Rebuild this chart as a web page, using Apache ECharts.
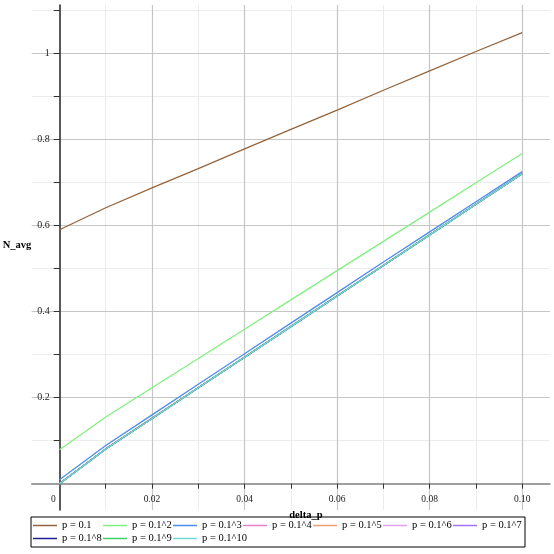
<!DOCTYPE html>
<html>
<head>
<meta charset="utf-8">
<script src="https://cdn.jsdelivr.net/npm/echarts@6/dist/echarts.min.js"></script>
<style>
  html, body { margin: 0; padding: 0; background: #ffffff; }
  #chart { width: 554px; height: 554px; }
</style>
</head>
<body>
<div id="chart"></div>
<script>
// ---- data ----
const deltaP = [0, 0.01, 0.02, 0.03, 0.04, 0.05, 0.06, 0.07, 0.08, 0.09, 0.10];

const seriesNames = ['p = 0.1', 'p = 0.1^2', 'p = 0.1^3', 'p = 0.1^4', 'p = 0.1^5',
                     'p = 0.1^6', 'p = 0.1^7', 'p = 0.1^8', 'p = 0.1^9', 'p = 0.1^10'];

const nAvgP1  = [0.590, 0.641, 0.687, 0.732, 0.778, 0.823, 0.868, 0.914, 0.959, 1.004, 1.048];
const nAvgP2  = [0.079, 0.155, 0.223, 0.291, 0.359, 0.427, 0.495, 0.563, 0.631, 0.699, 0.767];
const nAvgP3  = [0.0093, 0.089, 0.160, 0.231, 0.302, 0.373, 0.444, 0.515, 0.585, 0.655, 0.725];
const nAvgP4  = [0.0010, 0.0815, 0.1525, 0.2235, 0.2945, 0.3655, 0.4365, 0.5075, 0.5785, 0.6495, 0.7205];
const nAvgP5  = [0.0001, 0.0806, 0.1518, 0.2229, 0.2940, 0.3650, 0.4361, 0.5071, 0.5782, 0.6492, 0.7202];
const nAvgP6  = [0.00001, 0.0805, 0.1517, 0.2228, 0.2939, 0.3649, 0.4360, 0.5070, 0.5781, 0.6491, 0.7201];
const nAvgP7  = [0.000001, 0.0805, 0.1517, 0.2228, 0.2939, 0.3649, 0.4360, 0.5070, 0.5781, 0.6491, 0.7201];
const nAvgP8  = [0.0000001, 0.0805, 0.1517, 0.2228, 0.2939, 0.3649, 0.4360, 0.5070, 0.5781, 0.6491, 0.7201];
const nAvgP9  = [0.00000001, 0.0805, 0.1517, 0.2228, 0.2939, 0.3649, 0.4360, 0.5070, 0.5781, 0.6491, 0.7201];
const nAvgP10 = [0.000000001, 0.0805, 0.1517, 0.2228, 0.2939, 0.3649, 0.4360, 0.5070, 0.5781, 0.6491, 0.7201];

const allSeries = [nAvgP1, nAvgP2, nAvgP3, nAvgP4, nAvgP5, nAvgP6, nAvgP7, nAvgP8, nAvgP9, nAvgP10];

// tick / grid values
const xLabelTicks = [0, 0.02, 0.04, 0.06, 0.08, 0.10];
const xMinorTicks = [0.01, 0.02, 0.03, 0.04, 0.05, 0.06, 0.07, 0.08, 0.09, 0.10];
const yLabelTicks = [0.2, 0.4, 0.6, 0.8, 1];
const yMinorTicks = [0.1, 0.2, 0.3, 0.4, 0.5, 0.6, 0.7, 0.8, 0.9, 1.0, 1.1];
const xGridMajor = [0.02, 0.04, 0.06, 0.08, 0.10];
const xGridMinor = [0.01, 0.03, 0.05, 0.07, 0.09];
const yGridMajor = [0.2, 0.4, 0.6, 0.8, 1.0];
const yGridMinor = [0.1, 0.3, 0.5, 0.7, 0.9, 1.1];

// ---- styling ----
const colors = ['#96643c', '#80f080', '#4a8cf0', '#e67fc8', '#f0a070',
                '#e0a0f0', '#a070ff', '#1f1f8c', '#44d060', '#70d8d8'];
const serif = "'Liberation Serif', 'Times New Roman', serif";

const chart = echarts.init(document.getElementById('chart'), null, { renderer: 'canvas' });

const gridLines = [];
xGridMinor.forEach(v => gridLines.push({ xAxis: v, lineStyle: { color: '#ececec', width: 1, type: 'solid' } }));
yGridMinor.forEach(v => gridLines.push({ yAxis: v, lineStyle: { color: '#ececec', width: 1, type: 'solid' } }));
xGridMajor.forEach(v => gridLines.push({ xAxis: v, lineStyle: { color: '#c6c6c6', width: 1.2, type: 'solid' } }));
yGridMajor.forEach(v => gridLines.push({ yAxis: v, lineStyle: { color: '#c6c6c6', width: 1.2, type: 'solid' } }));

const series = [{
  name: '__grid',
  type: 'line',
  data: [],
  z: 0,
  silent: true,
  markLine: {
    z: 0,
    silent: true,
    symbol: ['none', 'none'],
    label: { show: false },
    emphasis: { disabled: true },
    animation: false,
    data: gridLines
  }
}];
allSeries.forEach((arr, i) => {
  series.push({
    name: seriesNames[i],
    type: 'line',
    z: 3,
    showSymbol: false,
    symbol: 'none',
    lineStyle: { width: 1.3, color: colors[i] },
    itemStyle: { color: colors[i] },
    emphasis: { disabled: true },
    data: deltaP.map((x, j) => [x, arr[j]])
  });
});

const option = {
  animation: false,
  backgroundColor: '#ffffff',
  grid: { left: 31.7, right: 4, top: 5, bottom: 44, containLabel: false, outerBoundsMode: 'none' },
  xAxis: {
    type: 'value',
    z: 2,
    min: -0.006,
    max: 0.106,
    offset: -26.3,
    name: 'delta_p',
    nameLocation: 'middle',
    nameGap: 15,
    nameTextStyle: { fontFamily: serif, fontWeight: 'bold', fontSize: 10.5, color: '#000', padding: [0, 0, 0, 30] },
    axisLine: { onZero: false, lineStyle: { color: '#808080', width: 1.5 } },
    axisTick: { show: true, inside: false, length: 5, customValues: xMinorTicks, lineStyle: { color: '#333', width: 1 } },
    axisLabel: {
      customValues: xLabelTicks,
      margin: 11,
      fontFamily: serif,
      fontSize: 9.5,
      color: '#222',
      formatter: function (v) { return v === 0 ? '{z|0}' : v.toFixed(2); },
      rich: { z: { fontFamily: serif, fontSize: 9.5, color: '#222', padding: [0, 12, 0, 0] } }
    },
    splitLine: { show: false },
    minorSplitLine: { show: false }
  },
  yAxis: {
    type: 'value',
    z: 2,
    min: -0.061,
    max: 1.112,
    offset: -28,
    name: 'N_avg',
    nameLocation: 'middle',
    nameRotate: 0,
    nameGap: 28,
    nameTextStyle: { fontFamily: serif, fontWeight: 'bold', fontSize: 10.5, color: '#000', verticalAlign: 'bottom', lineHeight: 24 },
    axisLine: { onZero: false, lineStyle: { color: '#222', width: 1.5 } },
    axisTick: { show: true, inside: false, length: 6, customValues: yMinorTicks, lineStyle: { color: '#333', width: 1 } },
    axisLabel: {
      customValues: yLabelTicks,
      margin: 10,
      fontFamily: serif,
      fontSize: 10,
      color: '#222',
      formatter: function (v) { return String(v); }
    },
    splitLine: { show: false },
    minorSplitLine: { show: false }
  },
  legend: {
    data: seriesNames,
    left: 31,
    top: 517,
    width: 492,
    orient: 'horizontal',
    padding: [2, 2, 2, 2],
    itemGap: 0,
    itemWidth: 24,
    itemHeight: 1.5,
    icon: 'rect',
    borderColor: '#000',
    borderWidth: 1,
    borderRadius: 0,
    selectedMode: false,
    textStyle: { fontFamily: serif, fontSize: 10.5, color: '#000', lineHeight: 13, width: 41, overflow: 'none' }
  },
  series: series
};

chart.setOption(option);
</script>
</body>
</html>
